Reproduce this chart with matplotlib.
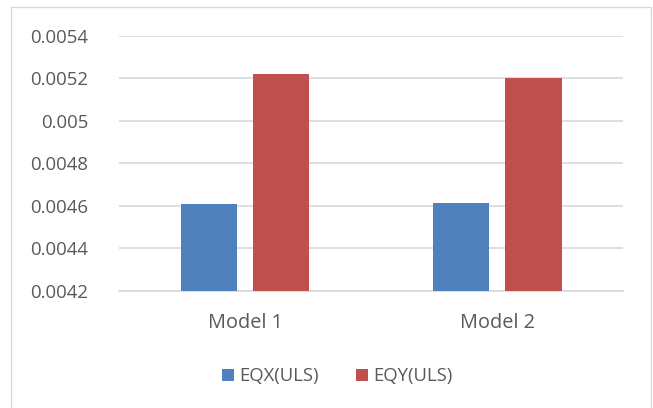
import numpy as np
import matplotlib.pyplot as plt
from matplotlib.patches import Rectangle

# data
categories = ['Model 1', 'Model 2']
eqx_uls = [0.004608, 0.004612]
eqy_uls = [0.005220, 0.005201]
y_ticks = [0.0042, 0.0044, 0.0046, 0.0048, 0.005, 0.0052, 0.0054]
y_tick_labels = ['0.0042', '0.0044', '0.0046', '0.0048', '0.005', '0.0052', '0.0054']

plt.rcParams['font.family'] = ['Open Sans', 'DejaVu Sans']

fig = plt.figure(figsize=(6.53, 4.08), dpi=100)
ax = fig.add_axes([0.1822, 0.2875, 0.7723, 0.6243])

x_pos = np.arange(len(categories))
w = 0.224
ax.bar(x_pos - 0.143, eqx_uls, w, color='#4F81BD', label='EQX(ULS)', zorder=3)
ax.bar(x_pos + 0.143, eqy_uls, w, color='#C0504D', label='EQY(ULS)', zorder=3)

ax.set_xlim(-0.5, 1.5)
ax.set_ylim(0.0042, 0.0054)
ax.set_yticks(y_ticks)
ax.set_yticklabels(y_tick_labels)
ax.set_xticks(x_pos)
ax.set_xticklabels(categories)
ax.tick_params(length=0, colors='#595959')
ax.tick_params(axis='y', pad=22, labelsize=13.4)
ax.tick_params(axis='x', pad=16, labelsize=14.3)
ax.grid(axis='y', color='#D9D9D9', linewidth=1.2, zorder=0)
for s in ['top', 'right', 'left']:
    ax.spines[s].set_visible(False)
ax.spines['bottom'].set_color('#D9D9D9')
ax.spines['bottom'].set_linewidth(1.2)

leg = fig.legend(loc='center', bbox_to_anchor=(0.516, 0.078), ncol=2, frameon=False,
                 fontsize=13.3, handlelength=0.65, handleheight=0.65, columnspacing=2.0,
                 handletextpad=0.3)
for t in leg.get_texts():
    t.set_color('#595959')

# chart border
fig.patches.append(Rectangle((0.0168, -0.01), 0.980, 0.993, transform=fig.transFigure,
                             fill=False, edgecolor='#D9D9D9', linewidth=1.0))

plt.savefig('out.png', dpi=100)
